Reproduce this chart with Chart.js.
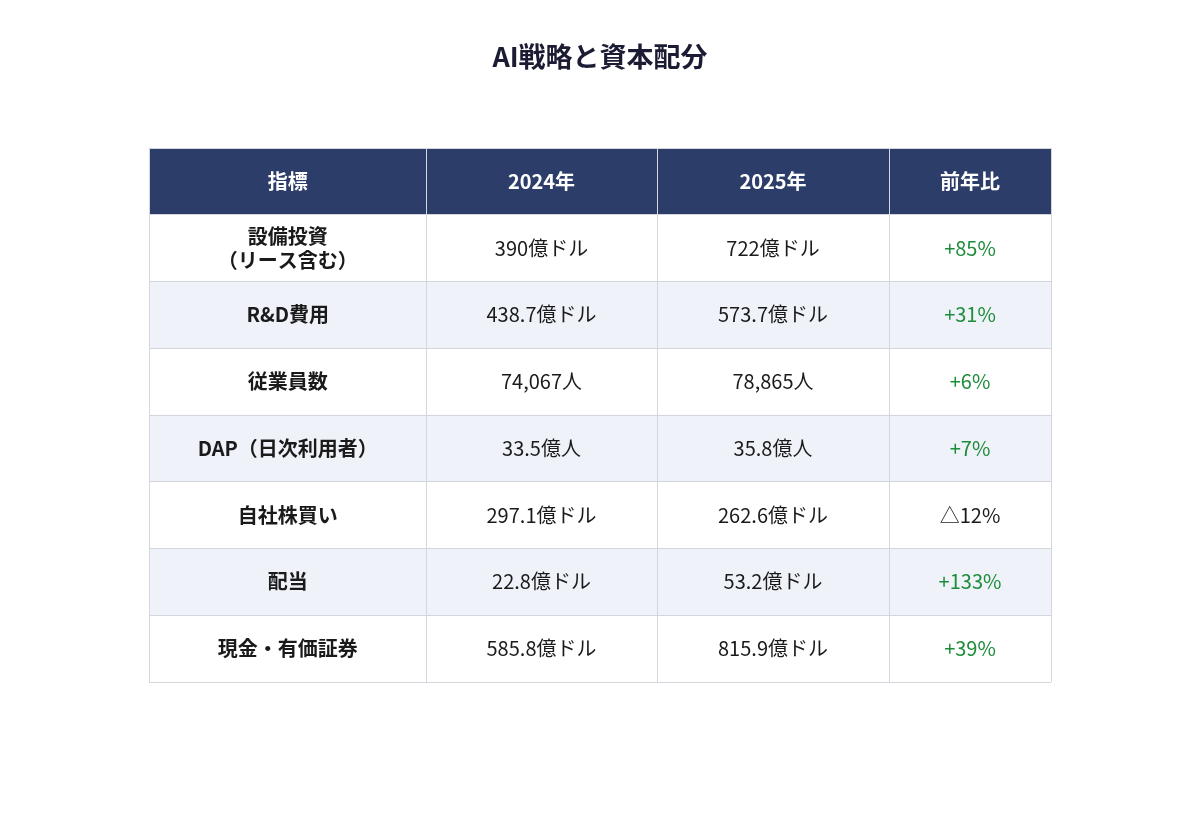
<!DOCTYPE html>
<html>
<head>
<meta charset="utf-8">
<script src="https://cdn.jsdelivr.net/npm/chart.js@4.4.1/dist/chart.umd.min.js"></script>
<style>
  html, body { margin: 0; padding: 0; background: #ffffff; }
  #wrap { width: 1200px; height: 829px; }
</style>
</head>
<body>
<div id="wrap"><canvas id="tableChart"></canvas></div>
<script>
// table contents
var headers = ['指標', '2024年', '2025年', '前年比'];
var metrics = [['設備投資', '（リース含む）'], 'R&D費用', '従業員数', 'DAP（日次利用者）', '自社株買い', '配当', '現金・有価証券'];
var values2024 = ['390億ドル', '438.7億ドル', '74,067人', '33.5億人', '297.1億ドル', '22.8億ドル', '585.8億ドル'];
var values2025 = ['722億ドル', '573.7億ドル', '78,865人', '35.8億人', '262.6億ドル', '53.2億ドル', '815.9億ドル'];
var yoy = ['+85%', '+31%', '+6%', '+7%', '△12%', '+133%', '+39%'];

// layout of the columns (pixel-ish units on the x scale)
var colWidths = [277, 231, 232, 162];
var FONT = '"Noto Sans CJK JP", "Noto Sans", sans-serif';

var rowLabels = ['header'].concat(metrics.map(function(m, i) { return 'row' + i; }));
var columns = [metrics, values2024, values2025, yoy];

var boundaries = [0];
for (var b = 0; b < colWidths.length; b++) {
    boundaries.push(boundaries[b] + colWidths[b]);
}

var datasets = [];
for (var c = 0; c < colWidths.length; c++) {
    var vals = [];
    for (var r = 0; r < rowLabels.length; r++) {
        vals.push(colWidths[c]);
    }
    datasets.push({
        label: headers[c],
        data: vals,
        borderWidth: 0,
        barPercentage: 1,
        categoryPercentage: 1,
        backgroundColor: function(ctx) {
            if (ctx.dataIndex === 0) return '#2c3d69';
            return ctx.dataIndex % 2 === 0 ? '#eff3f9' : '#ffffff';
        }
    });
}

function cellText(col, row) {
    if (row === 0) return headers[col];
    return columns[col][row - 1];
}

// writes the text of every cell at the centre of its bar
var cellTextPlugin = {
    id: 'cellText',
    afterDraw: function(chart) {
        var ctx = chart.ctx;
        ctx.save();
        ctx.textAlign = 'center';
        ctx.textBaseline = 'middle';
        chart.data.datasets.forEach(function(ds, col) {
            var meta = chart.getDatasetMeta(col);
            meta.data.forEach(function(el, row) {
                var cx = (el.x + el.base) / 2;
                var cy = el.y;
                var txt = cellText(col, row);
                var bold = row === 0 || col === 0;
                ctx.font = (bold ? 'bold ' : '') + '20px ' + FONT;
                if (row === 0) {
                    ctx.fillStyle = '#ffffff';
                } else if (col === 3 && txt.charAt(0) === '+') {
                    ctx.fillStyle = '#1e8c3a';
                } else {
                    ctx.fillStyle = '#1a1a1a';
                }
                if (Array.isArray(txt)) {
                    ctx.fillText(txt[0], cx, cy - 12);
                    ctx.fillText(txt[1], cx, cy + 12);
                } else {
                    ctx.fillText(txt, cx, cy);
                }
            });
        });
        ctx.restore();
    }
};

var gridLine = {
    color: '#d3d6dd',
    lineWidth: 1,
    drawTicks: false,
    z: 1
};

var config = {
    type: 'bar',
    data: { labels: rowLabels, datasets: datasets },
    options: {
        indexAxis: 'y',
        responsive: true,
        maintainAspectRatio: false,
        animation: false,
        layout: { padding: { left: 149, right: 149, top: 0, bottom: 147 } },
        plugins: {
            legend: { display: false },
            tooltip: { enabled: false },
            title: {
                display: true,
                text: 'AI戦略と資本配分',
                color: '#1b1b33',
                font: { family: FONT, size: 27, weight: 'bold', lineHeight: 1.2 },
                padding: { top: 41, bottom: 74.6 }
            }
        },
        scales: {
            x: {
                type: 'linear',
                stacked: true,
                min: 0,
                max: boundaries[boundaries.length - 1],
                afterBuildTicks: function(scale) {
                    scale.ticks = boundaries.map(function(v) { return { value: v }; });
                },
                ticks: { display: false },
                grid: gridLine,
                border: { display: false }
            },
            y: {
                stacked: true,
                ticks: { display: false },
                grid: Object.assign({ offset: true }, gridLine),
                border: { display: false }
            }
        }
    },
    plugins: [cellTextPlugin]
};

var tableChart = new Chart(document.getElementById('tableChart'), config);
</script>
</body>
</html>
